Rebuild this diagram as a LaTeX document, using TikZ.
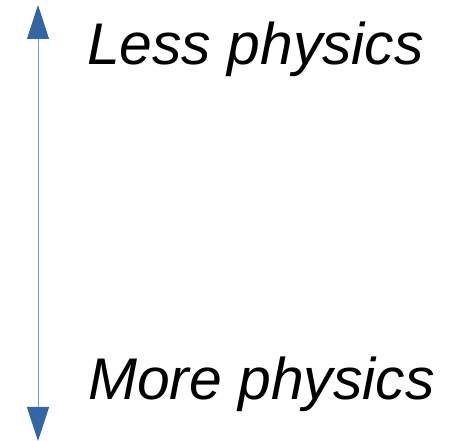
\documentclass[tikz,border=0pt]{standalone}
\usepackage{fontspec}
\setmainfont{Liberation Sans}
\usepackage{tikz}
\usetikzlibrary{arrows.meta}

\definecolor{tipblue}{HTML}{3465A4}
\definecolor{lineblue}{HTML}{7A9CCB}

\begin{document}
\begin{tikzpicture}[
    x=1pt, y=1pt,
    label/.style={anchor=base west, inner sep=0pt, font=\fontsize{58.8}{60}\selectfont\itshape},
    axis/.style={{Triangle[length=34pt, width=22pt, color=tipblue]}-{Triangle[length=34pt, width=22pt, color=tipblue]},
                 lineblue, line width=1pt}
]
    \useasboundingbox (0,0) rectangle (452,441);
    \coordinate (top) at (38,436);
    \coordinate (bottom) at (38,0);

    \node[label] (less) at (87,376) {Less physics};
    \node[label] (more) at (88,41) {More physics};

    \draw[axis] (bottom) -- (top);
\end{tikzpicture}
\end{document}
